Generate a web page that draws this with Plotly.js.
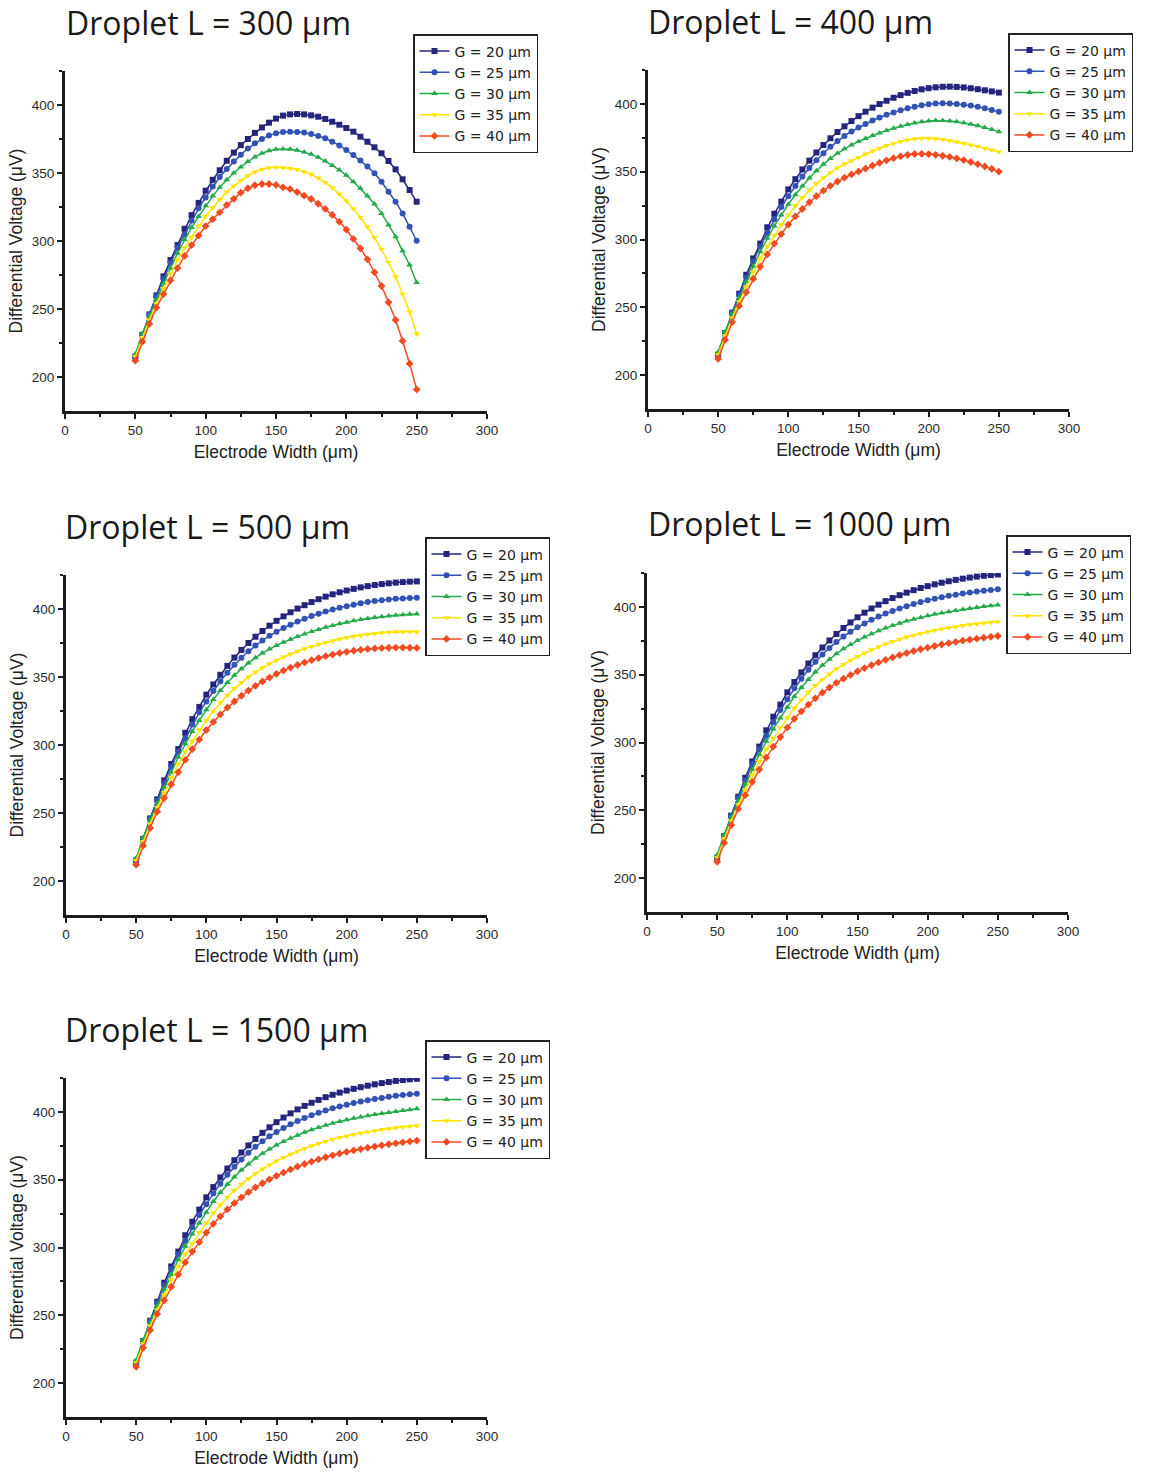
<!DOCTYPE html>
<html>
<head>
<meta charset="utf-8">
<script src="https://cdn.plot.ly/plotly-3.0.1.min.js"></script>
<style>
html,body{margin:0;padding:0;background:#ffffff;}
#chart{width:1149px;height:1473px;}
</style>
</head>
<body>
<div id="chart"></div>
<script>
// ---------------- DATA ----------------
const electrodeWidth = [50,55,60,65,70,75,80,85,90,95,100,105,110,115,120,125,130,135,140,145,150,155,160,165,170,175,180,185,190,195,200,205,210,215,220,225,230,235,240,245,250];

const gapLabels = ['G = 20 μm','G = 25 μm','G = 30 μm','G = 35 μm','G = 40 μm'];
const dropletTitles = ['Droplet L = 300 μm','Droplet L = 400 μm','Droplet L = 500 μm','Droplet L = 1000 μm','Droplet L = 1500 μm'];
const xTitle = 'Electrode Width (μm)';
const yTitle = 'Differential Voltage (μV)';
const xTicks = [0,50,100,150,200,250,300];
const yTicks = [200,250,300,350,400];

// Droplet L = 300 μm
const L300_G20 = [215,231,246,260,274,286,297,309,319,328,337,345,352,359,365,370.5,375,379.5,383.5,387,390,392.2,393.1,393.4,393.1,392.4,391.4,389.7,387.7,385.5,383.1,380.4,376.7,373,368.9,364.5,358.8,352.7,345.4,337.5,328.9];
const L300_G25 = [215,231,246,259,272,284,295,305,315,324,332,340,347,353,358.5,363.5,368,371.8,375,377.5,379.2,380.2,380.4,380.2,379.7,378.7,377.2,375.5,373,370.3,366.9,363.2,359.1,354.7,349.8,343.6,336.3,328.9,320.3,310.5,300.2];
const L300_G30 = [217,232,245,257,269,280,291,301,310,318,326,333,339.5,345,350,354.5,358.5,361.8,364.5,366.3,367.4,367.6,367.4,366.7,365.4,363.7,361.5,358.8,355.6,352.2,348.3,343.6,338.7,333.1,327.2,320.3,311.8,303.2,292.6,282.4,269.4];
const L300_G35 = [215,229,242,254,265,276,286,295,303,311,318,324.5,330.5,336,340.5,344.5,348,350.8,352.7,353.8,354.2,353.9,353.4,352.5,351,349,346.3,343.1,339.2,334.6,329.4,323.8,317.4,310.5,302.5,293.9,284.1,273.8,261,248,231.6];
const L300_G40 = [212,226,239,251,261,271,280,289,297,304,311,316,321,326.5,331,335.5,338.7,341,341.9,341.9,341.2,339.5,338.2,336,333.3,330.9,327.4,323.6,319.2,314.1,308.4,301.5,294.6,286.5,277,266.9,254.9,241.9,226.5,209.8,190.9];

// Droplet L = 400 μm
const L400_G20 = [215,231,246,260,274,286,297,309,319,328,337,344.5,351.7,358.2,364.2,369.7,374.7,379.3,383.5,387.4,391,394.3,397.3,400,402.4,404.6,406.5,408.2,409.6,410.8,411.7,412.3,412.7,412.8,412.6,412.2,411.6,410.9,410.1,409.3,408.4];
const L400_G25 = [215,231,246,259,272,284,295,305,315,324,332,339.5,346.5,352.8,358.5,363.7,368.4,372.6,376.4,379.7,382.6,385.3,387.8,390,392,393.8,395.4,396.8,398,399,399.8,400.3,400.5,400.4,400,399.5,398.8,397.9,396.8,395.6,394.3];
const L400_G30 = [217,232,245,257,269,280,291,301,310,318,326,333,339.5,345.4,350.7,355.5,359.8,363.6,366.9,369.8,372.3,374.6,376.7,378.6,380.4,382,383.5,384.8,386,386.9,387.5,387.8,387.8,387.5,386.9,386.1,385.1,383.9,382.6,381.1,379.6];
const L400_G35 = [215,229,242,254,265,276,286,295,303,311,318,325,331,336.5,341.3,345.6,349.4,352.8,355.7,358.2,360.5,363,365.3,367.4,369.3,371,372.4,373.5,374.4,374.8,374.8,374.4,373.8,373,372.1,371,369.8,368.6,367.3,366,364.7];
const L400_G40 = [212,226,239,251,261,271,280,289,297,304,311,317,322.5,327.5,332,336,339.6,342.8,345.6,348,350.1,352.4,354.6,356.6,358.4,360,361.4,362.5,363.1,363.2,363,362.5,361.8,360.9,359.8,358.6,357.2,355.6,353.9,352.1,350.1];

// Droplet L = 500 μm
const L500_G20 = [215,231,246,260,274,286,297,309,319,328,337,344.5,351.6,358.2,364.3,369.9,375,379.6,383.8,387.7,391.3,394.6,397.6,400.3,402.8,405.1,407.2,409.1,410.8,412.3,413.6,414.8,415.9,416.8,417.6,418.3,418.9,419.4,419.8,420.1,420.3];
const L500_G25 = [215,231,246,259,272,284,295,305,315,324,332,339.7,346.8,353.2,359,364.2,368.9,373.1,376.9,380.3,383.3,386,388.5,390.8,392.9,394.8,396.5,398.1,399.6,400.9,402.1,403.2,404.2,405.1,405.8,406.5,407,407.5,407.8,408,408.2];
const L500_G30 = [217,232,245,257,269,280,291,301,310,318,326,333.5,340,346,351.3,356,360.3,364.2,367.6,370.6,373.2,375.6,377.8,379.8,381.7,383.4,385,386.5,387.9,389.1,390.3,391.3,392.2,393,393.7,394.3,394.9,395.4,395.8,396.1,396.3];
const L500_G35 = [215,229,242,254,265,276,286,295,303,311,318,325,331,336.5,341.5,346,350,353.6,356.8,359.7,362.3,364.7,366.9,368.9,370.7,372.4,374,375.4,376.7,377.9,379,379.9,380.7,381.4,382,382.5,382.9,383.2,383.3,383.3,383.2];
const L500_G40 = [212,226,239,251,261,271,280,289,297,304,311,317,322.5,327.5,332,336.2,340,343.5,346.7,349.6,352.3,354.7,356.9,358.9,360.7,362.4,363.9,365.3,366.5,367.6,368.5,369.3,370,370.6,371,371.3,371.5,371.6,371.6,371.5,371.4];

// Droplet L = 1000 μm
const L1000_G20 = [215,231,246,260,274,286,297,309,319,328,337,344.6,351.7,358.3,364.4,370.1,375.3,380.1,384.5,388.6,392.4,395.8,398.9,401.7,404.3,406.6,408.7,410.6,412.4,414,415.4,416.7,417.9,419,420,420.9,421.7,422.4,423,423.5,424];
const L1000_G25 = [215,231,246,259,272,284,295,305,315,324,332,340,347.1,353.6,359.5,364.9,369.8,374.2,378.2,381.8,385,387.9,390.5,392.9,395.1,397.1,398.9,400.6,402.2,403.6,404.9,406.1,407.2,408.2,409.1,409.9,410.7,411.4,412,412.5,413];
const L1000_G30 = [217,232,245,257,269,280,291,301,310,318,326,334,340.5,346.5,352,357,361.5,365.5,369.1,372.3,375.2,377.8,380.2,382.4,384.4,386.3,388,389.6,391,392.3,393.5,394.6,395.6,396.5,397.4,398.2,398.9,399.6,400.3,400.9,401.5];
const L1000_G35 = [215,229,242,254,265,276,286,295,303,311,318,325.5,331.5,337,342,346.5,350.6,354.3,357.6,360.6,363.4,366,368.4,370.6,372.6,374.5,376.2,377.8,379.2,380.5,381.7,382.8,383.8,384.7,385.5,386.3,387,387.6,388.2,388.7,389.1];
const L1000_G40 = [212,226,239,251,261,271,280,289,297,304,311,317.5,323,328,332.6,336.8,340.6,344,347.1,349.9,352.5,354.9,357.1,359.1,361,362.8,364.5,366,367.5,368.8,370,371.2,372.3,373.3,374.2,375.1,375.9,376.6,377.3,378,378.6];

// Droplet L = 1500 μm
const L1500_G20 = [215,231,246,260,274,286,297,309,319,328,337,344.6,351.7,358.3,364.4,370.1,375.3,380.1,384.6,388.7,392.5,395.9,399,401.9,404.5,406.8,408.9,410.9,412.7,414.3,415.8,417.1,418.3,419.4,420.4,421.3,422.1,422.9,423.6,424.1,424.5];
const L1500_G25 = [215,231,246,259,272,284,295,305,315,324,332,340,347.1,353.6,359.6,365,369.9,374.4,378.4,382,385.3,388.2,390.9,393.3,395.5,397.5,399.4,401.1,402.7,404.1,405.4,406.6,407.7,408.7,409.6,410.4,411.2,411.9,412.5,413,413.5];
const L1500_G30 = [217,232,245,257,269,280,291,301,310,318,326,334,340.6,346.6,352.1,357.1,361.7,365.8,369.4,372.7,375.6,378.3,380.7,382.9,385,386.9,388.6,390.2,391.7,393,394.2,395.3,396.3,397.3,398.1,398.9,399.7,400.4,401.1,401.7,402.3];
const L1500_G35 = [215,229,242,254,265,276,286,295,303,311,318,325.5,331.5,337.1,342.1,346.7,350.8,354.5,357.9,361,363.8,366.4,368.8,371,373.1,375,376.7,378.3,379.8,381.1,382.3,383.4,384.4,385.3,386.2,387,387.7,388.4,389,389.5,389.9];
const L1500_G40 = [212,226,239,251,261,271,280,289,297,304,311,317.5,323,328.1,332.7,337,340.8,344.3,347.4,350.3,352.9,355.3,357.6,359.7,361.6,363.4,365.1,366.6,368,369.3,370.5,371.6,372.6,373.6,374.5,375.4,376.2,376.9,377.6,378.3,378.9];

// ---------------- STYLE / LAYOUT ----------------
const W = 1149, H = 1473;
const seriesColors = ['#25257d','#3352b3','#24aa4b','#fde400','#f04b22'];
const seriesSymbols = ['square','circle','triangle-up','triangle-down','diamond'];

const panelData = [
  [L300_G20,L300_G25,L300_G30,L300_G35,L300_G40],
  [L400_G20,L400_G25,L400_G30,L400_G35,L400_G40],
  [L500_G20,L500_G25,L500_G30,L500_G35,L500_G40],
  [L1000_G20,L1000_G25,L1000_G30,L1000_G35,L1000_G40],
  [L1500_G20,L1500_G25,L1500_G30,L1500_G35,L1500_G40]
];

// pixel geometry of each panel: x-axis left/right, y of value 425 (top) and 175 (bottom)
const geom = [
  {xl:65,  xr:487,  yt:71,    yb:411,   lg:[413,34],   tt:[64,22]},
  {xl:648, xr:1069, yt:70.1,  yb:408.9, lg:[1008,33],  tt:[646,21]},
  {xl:66,  xr:487,  yt:575,   yb:915,   lg:[425,537],  tt:[63,526]},
  {xl:647, xr:1068, yt:573.1, yb:911.9, lg:[1006,535], tt:[646,523]},
  {xl:66,  xr:487,  yt:1078.1,yb:1416.9,lg:[425,1040], tt:[63,1029]}
];

const axisColor = '#1c1c1c';
const tickFont = {family:'Liberation Sans, Arial, sans-serif', size:13.5, color:'#2a2a2a'};
const titleFont = {family:'Liberation Sans, Arial, sans-serif', size:17.5, color:'#222222'};

const traces = [];
const layout = {
  width: W, height: H,
  margin: {l:0, r:0, t:0, b:0},
  paper_bgcolor: '#ffffff',
  plot_bgcolor: 'rgba(0,0,0,0)',
  showlegend: true,
  annotations: [],
  font: {family:'Liberation Sans, Arial, sans-serif'}
};

panelData.forEach((series, p) => {
  const n = p + 1;
  const xa = n === 1 ? 'x' : 'x' + n;
  const ya = n === 1 ? 'y' : 'y' + n;
  const lg = n === 1 ? 'legend' : 'legend' + n;
  series.forEach((vals, g) => {
    traces.push({
      type: 'scatter', mode: 'lines+markers',
      x: electrodeWidth, y: vals,
      name: gapLabels[g],
      xaxis: xa, yaxis: ya, legend: lg,
      line: {color: seriesColors[g], width: 1.5},
      marker: {color: seriesColors[g], symbol: seriesSymbols[g], size: 6, line:{width:0}},
      hoverinfo: 'skip'
    });
  });
  const gm = geom[p];
  layout[n === 1 ? 'xaxis' : 'xaxis' + n] = {
    domain: [gm.xl / W, gm.xr / W], anchor: ya,
    range: [0, 300], tickmode: 'array', tickvals: xTicks, ticktext: xTicks.map(String),
    showline: true, linewidth: 3, linecolor: axisColor,
    ticks: 'outside', ticklen: 5, tickwidth: 2, tickcolor: axisColor,
    minor: {ticks: 'outside', ticklen: 3, tickwidth: 2, tickcolor: axisColor, tickvals: [25,75,125,175,225,275]},
    showgrid: false, zeroline: false, tickfont: tickFont,
    title: {text: xTitle, font: titleFont, standoff: 9},
    automargin: false, fixedrange: true
  };
  layout[n === 1 ? 'yaxis' : 'yaxis' + n] = {
    domain: [1 - gm.yb / H, 1 - gm.yt / H], anchor: xa,
    range: [175, 425], tickmode: 'array', tickvals: yTicks, ticktext: yTicks.map(String),
    showline: true, linewidth: 3, linecolor: axisColor,
    ticks: 'outside', ticklen: 5, tickwidth: 2, tickcolor: axisColor,
    minor: {ticks: 'outside', ticklen: 3, tickwidth: 2, tickcolor: axisColor, tickvals: [225,275,325,375,425]},
    showgrid: false, zeroline: false, tickfont: tickFont,
    title: {text: yTitle, font: titleFont, standoff: 5},
    automargin: false, fixedrange: true
  };
  layout[lg] = {
    x: gm.lg[0] / W, y: 1 - gm.lg[1] / H, xref: 'paper', yref: 'paper',
    xanchor: 'left', yanchor: 'top',
    bgcolor: '#ffffff', bordercolor: '#222222', borderwidth: 1.5,
    font: {family: 'DejaVu Sans, Liberation Sans, sans-serif', size: 14, color: '#222222'},
    traceorder: 'normal', tracegroupgap: 0, itemwidth: 30
  };
  layout.annotations.push({
    text: dropletTitles[p], xref: 'paper', yref: 'paper',
    x: gm.tt[0] / W, y: 1 - gm.tt[1] / H, xanchor: 'left', yanchor: 'middle',
    showarrow: false,
    font: {family: 'Open Sans, Noto Sans, sans-serif', size: 32, color: '#1a1a1a'}
  });
});

Plotly.newPlot('chart', traces, layout, {displayModeBar: false, staticPlot: true});
</script>
</body>
</html>
